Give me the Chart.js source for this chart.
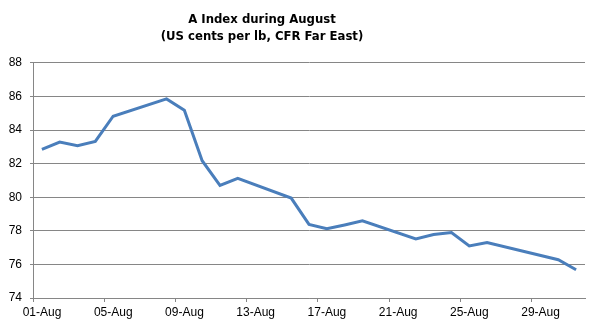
<!DOCTYPE html>
<html>
<head>
<meta charset="utf-8">
<script src="https://cdn.jsdelivr.net/npm/chart.js@4/dist/chart.umd.min.js"></script>
<style>
  html, body { margin: 0; padding: 0; background: #fff; }
  #wrap { width: 598px; height: 328px; }
</style>
</head>
<body>
<div id="wrap"><canvas id="c"></canvas></div>
<script>
// A Index, August — weekday quotes only (weekends / bank holiday have no value)
const titleLines = ['A Index during August', '(US cents per lb, CFR Far East)'];
const monthLabel = 'Aug';
const days = [1, 2, 3, 4, 5, 8, 9, 10, 11, 12, 15, 16, 17, 18, 19, 22, 23, 24, 25, 26, 30, 31];
const values = [82.85, 83.28, 83.07, 83.32, 84.82, 85.85, 85.17, 82.17, 80.70, 81.12,
                79.95, 78.38, 78.12, 78.35, 78.60, 77.52, 77.78, 77.90, 77.10, 77.30,
                76.28, 75.68];
const xTickDays = [1, 5, 9, 13, 17, 21, 25, 29];
const yMin = 74, yMax = 88, yStep = 2;

const GRID = '#868686';
const LINE = '#4A7EBB';
const TXT = '#000000';

// points sit in the middle of their day slot, like an Excel date axis
const points = days.map((d, i) => ({ x: d + 0.5, y: values[i] }));

const titleShift = {
  id: 'titleShift',
  afterLayout(chart) {
    const t = chart.titleBlock;
    if (t) { t.left = 0; t.right = 524; }
  }
};

new Chart(document.getElementById('c'), {
  type: 'line',
  data: {
    datasets: [{
      data: points,
      borderColor: LINE,
      borderWidth: 3,
      pointRadius: 0,
      tension: 0,
      fill: false,
    }],
  },
  options: {
    responsive: true,
    maintainAspectRatio: false,
    animation: false,
    layout: { padding: { left: 0, right: 13, top: 0, bottom: 0 } },
    plugins: {
      legend: { display: false },
      tooltip: { enabled: false },
      title: {
        display: true,
        text: titleLines,
        color: TXT,
        font: { family: '"DejaVu Sans Condensed", sans-serif', size: 13, weight: 'bold', lineHeight: 1.3 },
        padding: { top: 11, bottom: 18 },
      },
    },
    scales: {
      x: {
        type: 'linear',
        min: 1,
        max: 32,
        afterBuildTicks(scale) { scale.ticks = xTickDays.map(v => ({ value: v })); },
        afterFit(scale) { scale.height = 30; },
        ticks: {
          color: TXT,
          font: { family: '"Liberation Sans", Arial, sans-serif', size: 12 },
          padding: 3,
          labelOffset: 9,   // label sits in the middle of the day slot, tick on its edge
          maxRotation: 0,
          autoSkip: false,
          callback: v => String(v).padStart(2, '0') + '-' + monthLabel,
        },
        grid: { drawOnChartArea: false, drawTicks: true, tickLength: 4, color: GRID },
        border: { display: true, color: GRID, width: 1 },
      },
      y: {
        min: yMin,
        max: yMax,
        afterFit(scale) { scale.width = 33; },
        ticks: {
          stepSize: yStep,
          color: TXT,
          font: { family: '"Liberation Sans", Arial, sans-serif', size: 12 },
          padding: 8,
        },
        grid: { color: GRID, tickLength: 3, drawTicks: true },
        border: { display: true, color: GRID, width: 1 },
      },
    },
  },
  plugins: [titleShift],
});
</script>
</body>
</html>
